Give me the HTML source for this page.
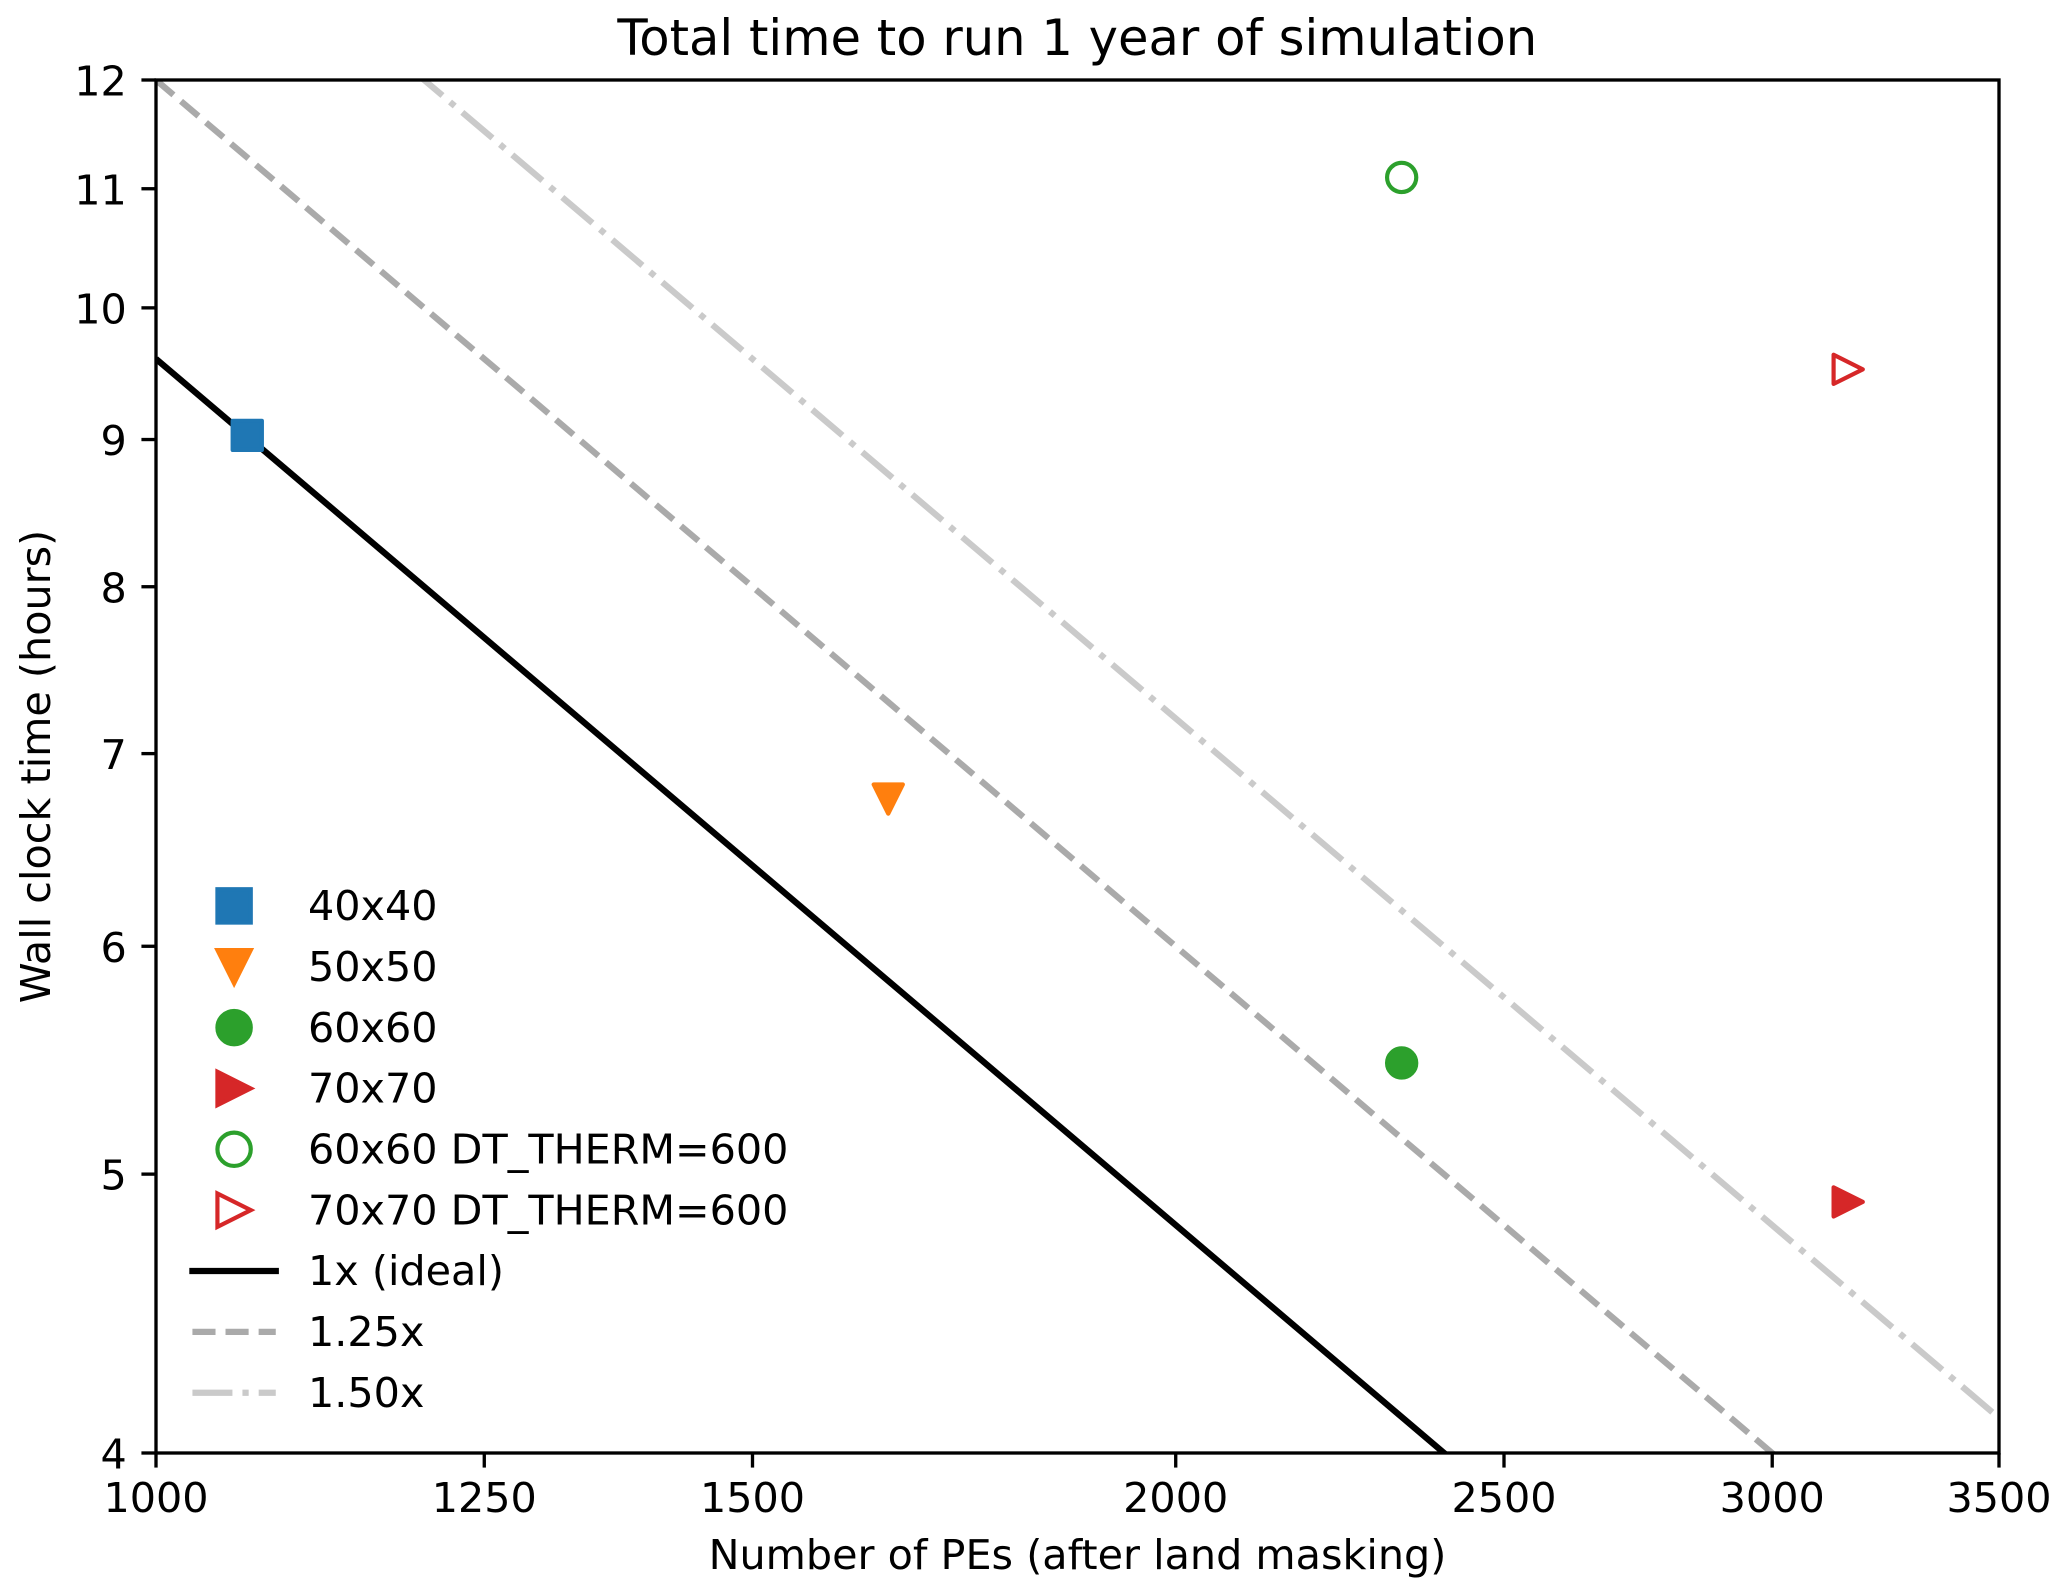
<!DOCTYPE html>
<html lang="en">
<head>
<meta charset="utf-8">
<title>Total time to run 1 year of simulation</title>
<style>
html,body{margin:0;padding:0;background:#fff;width:2067px;height:1596px;overflow:hidden}
svg{display:block}
text{font-family:"DejaVu Sans","Liberation Sans",sans-serif;fill:#000}
</style>
</head>
<body>
<svg id="chart" xmlns="http://www.w3.org/2000/svg" width="2067" height="1596" viewBox="0 0 2067 1596">
  <defs><clipPath id="plot-clip"><rect x="156" y="80" width="1843" height="1373"/></clipPath></defs>
  <rect x="0" y="0" width="2067" height="1596" fill="#fff"/>
  <g id="reference-lines" clip-path="url(#plot-clip)"></g>
  <g id="points" clip-path="url(#plot-clip)"></g>
  <g id="ticks"></g>
  <rect x="156" y="80" width="1843" height="1373" fill="none" stroke="#000" stroke-width="3.33"/>
  <text x="1077.3" y="55" font-size="49.6" text-anchor="middle">Total time to run 1 year of simulation</text>
  <text x="1077.5" y="1569" font-size="41.3" text-anchor="middle">Number of PEs (after land masking)</text>
  <text x="0" y="0" font-size="41.3" text-anchor="middle" transform="translate(50 766.5) rotate(-90)">Wall clock time (hours)</text>
  <g id="legend"></g>
</svg>
<script>
const xTicks = [1000, 1250, 1500, 2000, 2500, 3000, 3500];
const yTicks = [4, 5, 6, 7, 8, 9, 10, 11, 12];

const pointLabels = ['40x40', '50x50', '60x60', '70x70', '60x60 DT_THERM=600', '70x70 DT_THERM=600'];
const pointPEs = [1064, 1645, 2332, 3159, 2332, 3159];
const pointHours = [9.03, 6.75, 5.465, 4.89, 11.10, 9.52];
const pointShapes = ['square', 'triangle-down', 'circle', 'triangle-right', 'circle', 'triangle-right'];
const pointColors = ['#1f77b4', '#ff7f0e', '#2ca02c', '#d62728', '#2ca02c', '#d62728'];
const pointFilled = [true, true, true, true, false, false];

const lineLabels = ['1x (ideal)', '1.25x', '1.50x'];
const line1xPEs = [1000, 2430];
const line1xHours = [9.6, 3.951];
const line125xPEs = [1000, 3040];
const line125xHours = [12, 3.947];
const line150xPEs = [1180, 3500];
const line150xHours = [12.203, 4.114];

const NS = 'http://www.w3.org/2000/svg';
const XMIN = 1000, XMAX = 3500, YMIN = 4, YMAX = 12;
const L = 156, R = 1999, T = 80, B = 1453;
const xScale = v => L + (R - L) * Math.log(v / XMIN) / Math.log(XMAX / XMIN);
const yScale = v => B - (B - T) * Math.log(v / YMIN) / Math.log(YMAX / YMIN);

const linePEs = [line1xPEs, line125xPEs, line150xPEs];
const lineHours = [line1xHours, line125xHours, line150xHours];
const lineColors = ['#000000', '#aaaaaa', '#cacaca'];
const plotDashes = ['', '22.9 9.9', '39.6 9.9 6.2 9.9'];
const plotOffsets = [0, 0, 48.8];
const legendDashes = ['', '23.1 10', '40 10 6.25 10'];

function make(tag, attrs, parent) {
  const el = document.createElementNS(NS, tag);
  for (const k in attrs) el.setAttribute(k, attrs[k]);
  parent.appendChild(el);
  return el;
}

function drawMarker(parent, shape, cx, cy, half, color, filled, join) {
  const style = {fill: filled ? color : 'none', stroke: color, 'stroke-width': 4.17, 'stroke-linejoin': join, 'stroke-miterlimit': 10};
  if (shape === 'circle') return make('circle', Object.assign({cx: cx, cy: cy, r: half}, style), parent);
  if (shape === 'square') return make('rect', Object.assign({x: cx - half, y: cy - half, width: 2 * half, height: 2 * half}, style), parent);
  let pts;
  if (shape === 'triangle-down') pts = [[cx, cy + half], [cx - half, cy - half], [cx + half, cy - half]];
  else pts = [[cx + half, cy], [cx - half, cy - half], [cx - half, cy + half]];
  return make('polygon', Object.assign({points: pts.map(p => p.join(',')).join(' ')}, style), parent);
}

const ticksG = document.getElementById('ticks');
xTicks.forEach(v => {
  const x = xScale(v);
  const tick = make('line', {x1: x, x2: x, y1: B, y2: B + 14.58, stroke: '#000', 'stroke-width': 3.33}, ticksG);
  
  
  const label = make('text', {x: x, y: 1512, 'font-size': 41.3, 'text-anchor': 'middle'}, ticksG);
  label.textContent = String(v);
  
  
});
yTicks.forEach(v => {
  const y = yScale(v);
  const tick = make('line', {x1: L - 14.58, x2: L, y1: y, y2: y, stroke: '#000', 'stroke-width': 3.33}, ticksG);
  
  
  const label = make('text', {x: 126.8, y: y + 15.6, 'font-size': 41.3, 'text-anchor': 'end'}, ticksG);
  label.textContent = String(v);
  
  
});

const linesG = document.getElementById('reference-lines');
lineHours.forEach((hours, i) => {
  const line = make('line', {
    x1: xScale(linePEs[i][0]), y1: yScale(hours[0]),
    x2: xScale(linePEs[i][1]), y2: yScale(hours[1]),
    stroke: lineColors[i], 'stroke-width': 6.25, 'stroke-linecap': 'butt'
  }, linesG);
  if (plotDashes[i]) {
    line.setAttribute('stroke-dasharray', plotDashes[i]);
    line.setAttribute('stroke-dashoffset', plotOffsets[i]);
  }
  
  
});

const pointsG = document.getElementById('points');
pointLabels.forEach((name, i) => {
  const m = drawMarker(pointsG, pointShapes[i], xScale(pointPEs[i]), yScale(pointHours[i]), 14.6, pointColors[i], pointFilled[i], 'round');
  
  
});

const legendG = document.getElementById('legend');
const LEG_TOP = 905.9, LEG_STEP = 60.85, LEG_CX = 234.1, LEG_TX = 308;
pointLabels.forEach((name, i) => {
  const cy = LEG_TOP + i * LEG_STEP;
  const m = drawMarker(legendG, pointShapes[i], LEG_CX, cy, 16.67, pointColors[i], pointFilled[i], 'miter');
  
  
  const t = make('text', {x: LEG_TX, y: cy + 14.2, 'font-size': 41.3}, legendG);
  t.textContent = name;
  
  
});
lineLabels.forEach((name, i) => {
  const cy = LEG_TOP + (i + pointLabels.length) * LEG_STEP;
  const h = make('line', {
    x1: LEG_CX - 41.67, x2: LEG_CX + 41.67, y1: cy, y2: cy,
    stroke: lineColors[i], 'stroke-width': 6.25,
    'stroke-linecap': legendDashes[i] ? 'butt' : 'square'
  }, legendG);
  if (legendDashes[i]) h.setAttribute('stroke-dasharray', legendDashes[i]);
  
  
  const t = make('text', {x: LEG_TX, y: cy + 14.2, 'font-size': 41.3}, legendG);
  t.textContent = name;
  
  
});
</script>
</body>
</html>
